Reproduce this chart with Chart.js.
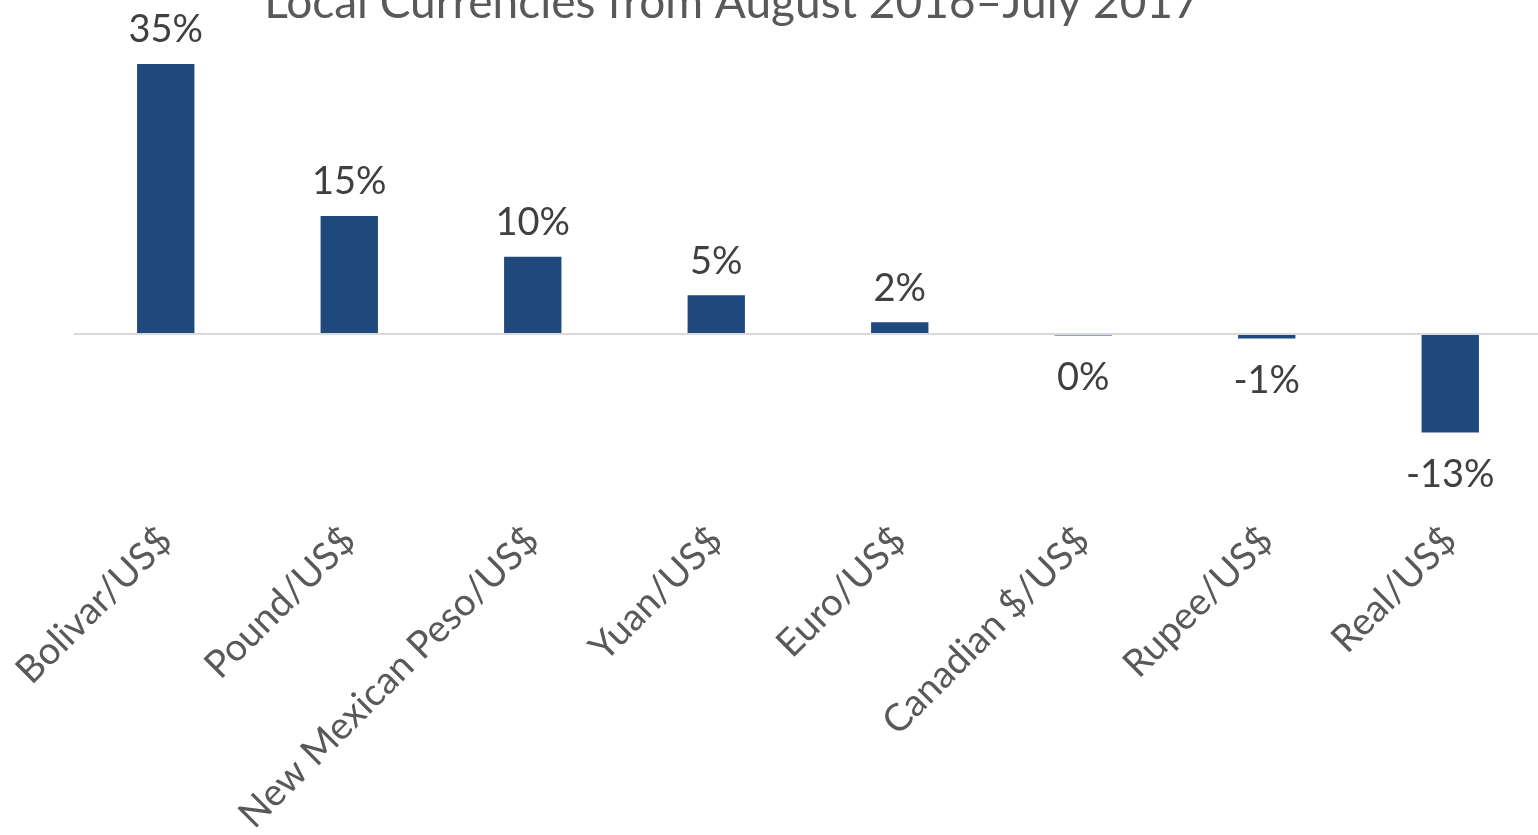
<!DOCTYPE html>
<html>
<head>
<meta charset="utf-8">
<script src="https://cdn.jsdelivr.net/npm/chart.js@4"></script>
<style>
  html, body { margin: 0; padding: 0; overflow: hidden; background: #fff; }
  #wrap { position: absolute; left: 0; top: -20px; width: 1542px; height: 855px; }
</style>
</head>
<body>
<div id="wrap"><canvas id="myChart"></canvas></div>
<script>
const categories = ['Bolivar/US$', 'Pound/US$', 'New Mexican Peso/US$', 'Yuan/US$', 'Euro/US$', 'Canadian $/US$', 'Rupee/US$', 'Real/US$'];
const changePct = [35.0, 15.3, 10.0, 5.0, 1.5, -0.2, -0.6, -12.8];
const chartTitle = 'Local Currencies from August 2016\u2013July 2017';

const FONT = 'Lato, "Open Sans", sans-serif';

// title sits off-centre and partly above the top edge, so it is drawn here
const topTitle = {
  id: 'topTitle',
  afterDraw(chart) {
    const c = chart.ctx;
    c.save();
    c.font = '46px ' + FONT;
    c.fillStyle = '#595959';
    c.textAlign = 'center';
    c.textBaseline = 'alphabetic';
    c.fillText(chartTitle, 732, 38);
    c.restore();
  }
};

// value labels above/below each bar
const barLabels = {
  id: 'barLabels',
  afterDatasetsDraw(chart) {
    const c = chart.ctx;
    const meta = chart.getDatasetMeta(0);
    c.save();
    c.font = '38px ' + FONT;
    c.fillStyle = '#404040';
    c.textAlign = 'center';
    c.textBaseline = 'middle';
    meta.data.forEach((bar, i) => {
      const v = changePct[i];
      const y = v >= 0 ? bar.y - 34 : bar.y + 42;
      c.fillText(Math.round(v) + '%', bar.x, y);
    });
    c.restore();
  }
};

const ctx = document.getElementById('myChart');

new Chart(ctx, {
  type: 'bar',
  data: {
    labels: categories,
    datasets: [{
      data: changePct,
      backgroundColor: '#1F497D',
      categoryPercentage: 1,
      barPercentage: 0.3125
    }]
  },
  plugins: [barLabels, topTitle],
  options: {
    responsive: true,
    maintainAspectRatio: false,
    animation: false,
    layout: { padding: { left: 74, right: 0, top: 84, bottom: 0 } },
    plugins: {
      legend: { display: false },
      tooltip: { enabled: false },
      title: { display: false }
    },
    scales: {
      x: {
        grid: { display: false },
        border: { display: false },
        ticks: {
          color: '#595959',
          font: { family: FONT, size: 38 },
          minRotation: 45,
          maxRotation: 45,
          padding: 8
        },
        afterFit: (scale) => { scale.height = 333; }
      },
      y: {
        min: -21.8,
        max: 35,
        ticks: { display: false, stepSize: 5 },
        border: { display: false },
        grid: {
          drawTicks: false,
          lineWidth: 2,
          color: (c) => c.tick && c.tick.value === 0 ? '#D9D9D9' : 'rgba(0,0,0,0)'
        },
        afterFit: (scale) => { scale.width = 0; }
      }
    }
  }
});
</script>
</body>
</html>
